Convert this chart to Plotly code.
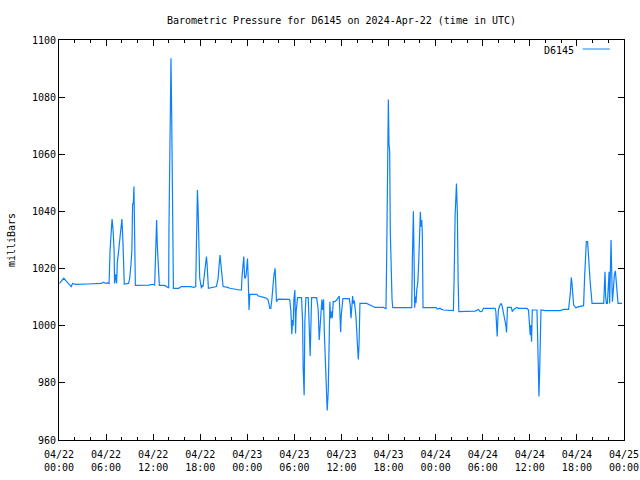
import plotly.graph_objects as go
import pandas as pd

# hours since 2024-04-22 00:00 UTC
hours = [
    0.06, 0.61, 0.96, 1.21, 1.56, 1.72, 2.11, 3.68, 5.39, 5.68, 5.93, 6.19, 6.38,
    6.51, 6.70, 6.76, 6.89, 7.02, 7.08, 7.21, 7.34, 7.43, 7.59, 7.76, 7.89, 8.02,
    8.14, 8.23, 8.32, 8.87, 9.00, 9.16, 9.29, 9.38, 9.47, 9.55, 9.64, 9.73, 11.42,
    11.93, 12.19, 12.25, 12.32, 12.44, 12.53, 12.66, 12.79, 13.47, 13.68, 13.98,
    14.01, 14.14, 14.27, 14.36, 14.45, 14.58, 15.25, 15.60, 16.78, 17.17, 17.42,
    17.51, 17.64, 17.72, 17.80, 17.93, 18.15, 18.23, 18.35, 18.48, 18.61, 18.70,
    18.79, 18.86, 18.95, 19.04, 20.06, 20.27, 20.40, 20.52, 20.65, 20.78, 20.91,
    21.51, 21.76, 23.04, 23.25, 23.33, 23.46, 23.55, 23.64, 23.71, 23.84, 23.93,
    24.02, 24.10, 24.19, 24.22, 24.31, 25.21, 25.33, 25.85, 25.97, 26.45, 26.65,
    26.87, 26.99, 27.12, 27.25, 27.38, 27.54, 27.63, 27.72, 27.93, 29.33, 29.42,
    29.55, 29.67, 29.76, 29.84, 29.93, 30.06, 30.15, 30.22, 30.40, 30.91, 31.04,
    31.12, 31.24, 31.33, 31.46, 31.76, 31.84, 31.93, 32.01, 32.10, 32.19, 32.83,
    33.03, 33.16, 33.25, 33.38, 33.50, 33.59, 33.72, 33.80, 33.92, 34.05, 34.18,
    34.31, 34.40, 34.52, 34.61, 34.74, 34.82, 34.95, 35.16, 35.38, 35.71, 35.80,
    35.89, 35.97, 36.06, 36.18, 36.99, 37.12, 37.21, 37.33, 37.42, 37.50, 37.63,
    37.72, 37.84, 38.01, 38.14, 38.23, 38.35, 39.21, 39.41, 39.85, 40.27, 41.33,
    41.54, 41.67, 41.76, 41.84, 41.97, 42.05, 42.14, 42.22, 42.35, 42.44, 42.53,
    44.95, 45.03, 45.16, 45.25, 45.33, 45.41, 45.50, 45.59, 45.72, 45.85, 45.97,
    46.05, 46.14, 46.23, 46.30, 46.39, 48.05, 48.22, 48.56, 48.69, 48.99, 49.84,
    50.26, 50.35, 50.48, 50.65, 50.77, 50.86, 50.95, 53.03, 53.25, 53.45, 53.67,
    53.89, 54.09, 55.58, 55.67, 55.75, 55.84, 55.93, 56.00, 56.13, 56.35, 56.48,
    56.57, 56.69, 56.82, 56.95, 57.03, 57.12, 57.15, 57.63, 57.76, 57.92, 58.14,
    58.35, 58.56, 59.63, 59.83, 59.96, 60.05, 60.14, 60.22, 60.31, 60.91, 60.98,
    61.07, 61.16, 61.24, 61.33, 61.42, 61.97, 63.88, 64.30, 64.94, 65.16, 65.28,
    65.37, 65.45, 65.58, 65.71, 65.88, 66.01, 66.43, 66.85, 66.98, 67.11, 67.20,
    67.36, 67.45, 67.54, 67.67, 67.80, 67.93, 69.41, 69.50, 69.58, 69.66, 69.75,
    69.88, 70.01, 70.10, 70.17, 70.26, 70.35, 70.43, 70.52, 70.61, 70.68, 70.77,
    70.90, 70.99, 71.12, 71.24, 71.75,
]

pressure = [
    1014.8, 1016.6, 1015.5, 1014.6, 1013.7, 1014.8, 1014.5, 1014.6, 1014.8, 1015.2, 1014.8, 1015.0, 1014.8,
    1026.5, 1033.5, 1037.3, 1033.5, 1026.5, 1014.8, 1018.0, 1014.8, 1022.0, 1026.0, 1030.0, 1035.0, 1037.3,
    1030.0, 1021.0, 1014.6, 1014.8, 1016.5, 1021.0, 1026.5, 1042.8, 1042.6, 1048.7, 1026.5, 1014.1, 1014.2,
    1014.5, 1014.2, 1019.0, 1028.0, 1037.0, 1028.0, 1020.0, 1014.1, 1014.1, 1013.7, 1013.2,
    1033.1, 1073.4, 1093.6, 1073.4, 1033.1, 1013.1, 1013.1, 1013.7, 1013.7, 1013.4, 1013.7,
    1030.6, 1047.5, 1041.7, 1030.6, 1016.7, 1013.1, 1014.0, 1013.7, 1017.2, 1020.0, 1023.0,
    1024.2, 1022.0, 1016.0, 1013.1, 1013.7, 1016.5, 1021.0, 1024.7, 1021.0, 1016.5, 1013.7,
    1013.4, 1013.1, 1012.5, 1012.5, 1017.5, 1021.8, 1024.2, 1017.5, 1016.5, 1017.5, 1022.6,
    1023.5, 1017.5, 1010.7, 1005.5, 1011.0, 1011.0, 1010.5, 1010.3, 1010.0, 1009.6, 1009.0,
    1006.1, 1006.1, 1009.0, 1014.2, 1017.5, 1020.1, 1014.0, 1008.4, 1009.3, 1009.2, 1008.8,
    1004.9, 997.0, 1002.0, 1000.0, 1009.2, 1012.5, 997.3, 1004.9, 1009.8, 1009.8, 1001.5,
    984.5, 975.7, 1001.4, 1009.8, 1009.8, 1004.9, 995.0, 989.4, 1000.0, 1009.8, 1009.8,
    1005.7, 995.0, 998.5, 1006.8, 1009.2, 1005.5, 1009.2, 998.5, 990.3, 978.7, 970.3,
    977.0, 989.4, 1008.4, 1002.6, 1005.0, 1002.6, 1008.4, 1008.4, 1009.0, 1010.4, 1003.7,
    997.7, 1003.7, 1006.4, 1009.5, 1009.5, 1007.0, 1002.6, 1007.0, 1010.4, 1007.8, 1008.8,
    1006.4, 1003.4, 994.4, 988.2, 993.0, 1007.8, 1007.8, 1007.5, 1007.0, 1006.4, 1006.4,
    1006.0, 1006.0, 1024.2, 1060.9, 1079.2, 1063.8, 1060.9, 1032.9, 1014.8, 1009.2, 1006.3,
    1006.3, 1023.0, 1040.1, 1023.0, 1006.3, 1010.2, 1008.0, 1012.5, 1015.0, 1023.0, 1034.1,
    1039.9, 1034.7, 1037.0, 1032.0, 1006.3, 1006.3, 1005.8, 1006.1, 1005.8, 1005.5, 1005.5,
    1005.3, 1016.2, 1038.75, 1049.8, 1038.75, 1016.2, 1004.9, 1005.1, 1005.5, 1005.7, 1004.9,
    1005.0, 1006.1, 1006.1, 1004.9, 999.7, 996.2, 1002.6, 1005.5, 1006.8, 1007.8, 1006.8,
    1005.5, 1003.4, 1002.3, 1000.0, 997.6, 1003.0, 1006.4, 1006.4, 1004.9, 1005.7, 1006.1,
    1006.4, 1006.1, 1006.1, 1005.5, 1000.9, 996.7, 1000.2, 994.4, 1005.5, 1005.5, 997.9,
    982.75, 975.2, 982.75, 997.9, 1005.5, 1005.3, 1005.3, 1005.7, 1005.7, 1011.3, 1016.9,
    1014.8, 1012.0, 1007.3, 1006.8, 1006.2, 1006.5, 1006.8, 1007.0, 1017.0, 1024.2, 1029.4,
    1029.4, 1026.5, 1021.8, 1016.0, 1010.2, 1007.8, 1007.8, 1015.9, 1018.9, 1010.2, 1007.8,
    1007.8, 1014.8, 1018.9, 1007.8, 1024.7, 1030.0, 1019.5, 1008.4, 1011.3, 1014.8, 1017.7,
    1019.2, 1016.0, 1010.2, 1007.8, 1007.8,
]

station = "D6145"
title_text = "Barometric Pressure for D6145 on 2024-Apr-22 (time in UTC)"
y_label = "milliBars"

times = pd.Timestamp("2024-04-22 00:00") + pd.to_timedelta(hours, unit="h")

FONT = "DejaVu Sans Mono"
LINE_COLOR = "#0a80ff"

fig = go.Figure()
fig.add_trace(go.Scatter(
    x=times, y=pressure, mode="lines", name=station,
    line=dict(color=LINE_COLOR, width=1.2), showlegend=False,
))

fig.update_layout(
    width=640, height=480,
    margin=dict(l=59, r=16, t=40, b=40, autoexpand=False),
    paper_bgcolor="white", plot_bgcolor="white",
    font=dict(family=FONT, size=10, color="black"),
    title=dict(text=title_text, x=0.5, xref="paper", y=1 - 20 / 480,
               yref="container", yanchor="middle", xanchor="center",
               font=dict(family=FONT, size=10, color="black")),
    xaxis=dict(
        type="date", range=["2024-04-22 00:00", "2024-04-25 00:00"],
        tick0="2024-04-22 00:00", dtick=6 * 3600 * 1000,
        tickformat="%m/%d<br>%H:%M", automargin=False, ticklabelstandoff=5,
        ticks="inside", ticklen=6, tickcolor="black", tickwidth=1,
        showline=True, linecolor="black", linewidth=1, mirror="ticks",
        showgrid=False, zeroline=False,
        minor=dict(dtick=2 * 3600 * 1000, ticks="inside", ticklen=3,
                   tickcolor="black", showgrid=False),
    ),
    yaxis=dict(
        range=[960, 1100], dtick=20, tick0=960, automargin=False,
        ticks="inside", ticklen=6, tickcolor="black", tickwidth=1,
        showline=True, linecolor="black", linewidth=1, mirror="ticks",
        showgrid=False, zeroline=False,
        title=dict(text=y_label, standoff=14, font=dict(family=FONT, size=10)),
    ),
)

# legend (text left of the line sample, gnuplot style)
fig.add_annotation(text=station, xref="paper", yref="paper", x=0.915, y=0.975,
                   xanchor="right", yanchor="middle", showarrow=False,
                   font=dict(family=FONT, size=10, color="black"))
fig.add_shape(type="line", xref="paper", yref="paper", x0=0.927, x1=0.975,
              y0=0.9775, y1=0.9775, line=dict(color=LINE_COLOR, width=1))

fig.write_html("out.html")
